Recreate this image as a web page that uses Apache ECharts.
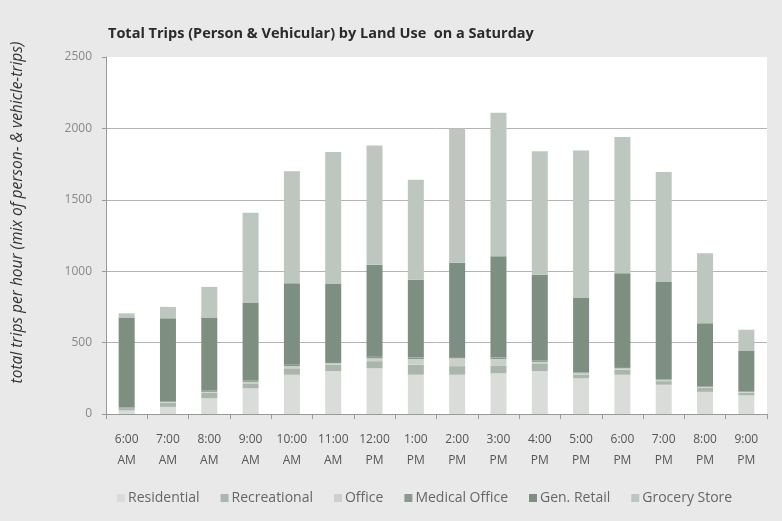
<!DOCTYPE html>
<html>
<head>
<meta charset="utf-8">
<script src="https://cdn.jsdelivr.net/npm/echarts@6/dist/echarts.min.js"></script>
<style>
  html, body { margin: 0; padding: 0; background: #e9e9e9; }
  #chart { width: 782px; height: 521px; }
</style>
</head>
<body>
<div id="chart"></div>
<script>
var hours = ['6:00\nAM', '7:00\nAM', '8:00\nAM', '9:00\nAM', '10:00\nAM', '11:00\nAM', '12:00\nPM', '1:00\nPM',
    '2:00\nPM', '3:00\nPM', '4:00\nPM', '5:00\nPM', '6:00\nPM', '7:00\nPM', '8:00\nPM', '9:00\nPM'];

var residential   = [25, 50, 110, 180, 275, 300, 320, 275, 275, 285, 300, 250, 275, 205, 155, 130];
var recreational  = [15, 30, 40, 30, 45, 45, 50, 70, 60, 55, 50, 25, 35, 25, 30, 20];
var office        = [0, 5, 5, 15, 15, 10, 20, 40, 55, 45, 15, 10, 10, 10, 5, 5];
var medicalOffice = [5, 5, 10, 10, 10, 10, 15, 10, 10, 10, 10, 5, 10, 5, 5, 5];
var genRetail     = [630, 580, 510, 545, 570, 545, 640, 545, 660, 710, 600, 525, 655, 680, 440, 285];
var groceryStore  = [30, 80, 215, 630, 785, 925, 835, 700, 940, 1005, 865, 1030, 955, 770, 490, 145];

var chartDom = document.getElementById('chart');
var myChart = echarts.init(chartDom);
var font = '"Open Sans", "Noto Sans", sans-serif';

function bar(name, data, color) {
    return {
        name: name,
        type: 'bar',
        stack: 'Total',
        barWidth: 16,
        itemStyle: { color: color },
        data: data
    };
}

var option = {
    backgroundColor: '#e9e9e9',
    animation: false,
    textStyle: { fontFamily: font },
    title: {
        text: 'Total Trips (Person & Vehicular) by Land Use  on a Saturday',
        left: 103,
        top: 21,
        textStyle: { fontSize: 14.5, fontWeight: 'bold', color: '#2a2a2a', fontFamily: font }
    },
    legend: {
        bottom: 11,
        left: 112,
        itemWidth: 8,
        itemHeight: 8,
        itemGap: 21,
        icon: 'rect',
        textStyle: { fontSize: 14, color: '#666', fontFamily: font, padding: [0, 0, 0, -2] },
        data: ['Residential', 'Recreational', 'Office', 'Medical Office', 'Gen. Retail', 'Grocery Store']
    },
    grid: {
        left: 106,
        right: 15,
        top: 57,
        bottom: 107,
        show: true,
        backgroundColor: '#ffffff',
        borderWidth: 0
    },
    xAxis: {
        type: 'category',
        data: hours,
        axisLine: { lineStyle: { color: '#999' } },
        axisTick: { show: true, length: 5, lineStyle: { color: '#999' } },
        axisLabel: { fontSize: 12, color: '#555', lineHeight: 21, margin: 15, interval: 0 }
    },
    yAxis: {
        type: 'value',
        min: 0,
        max: 2500,
        interval: 500,
        name: 'total trips per hour (mix of person- & vehicle-trips)',
        nameLocation: 'middle',
        nameGap: 80,
        nameTextStyle: { fontSize: 15.5, fontStyle: 'italic', color: '#333', padding: [0, 0, 0, 46] },
        axisLine: { show: true, lineStyle: { color: '#999' } },
        axisTick: { show: true, length: 4, lineStyle: { color: '#999' } },
        axisLabel: { fontSize: 12, color: '#888', margin: 14, formatter: function (v) { return String(v); } },
        splitLine: { lineStyle: { color: ['#b4b4b4', '#b4b4b4', '#b4b4b4', '#b4b4b4', '#b4b4b4', '#fff'] } }
    },
    series: [
        bar('Residential', residential, '#d9dcd9'),
        bar('Recreational', recreational, '#aab5ac'),
        bar('Office', office, '#c9d1c9'),
        bar('Medical Office', medicalOffice, '#8a998d'),
        bar('Gen. Retail', genRetail, '#7c8f80'),
        bar('Grocery Store', groceryStore, '#bdc7bf')
    ]
};
option && myChart.setOption(option);
</script>
</body>
</html>
